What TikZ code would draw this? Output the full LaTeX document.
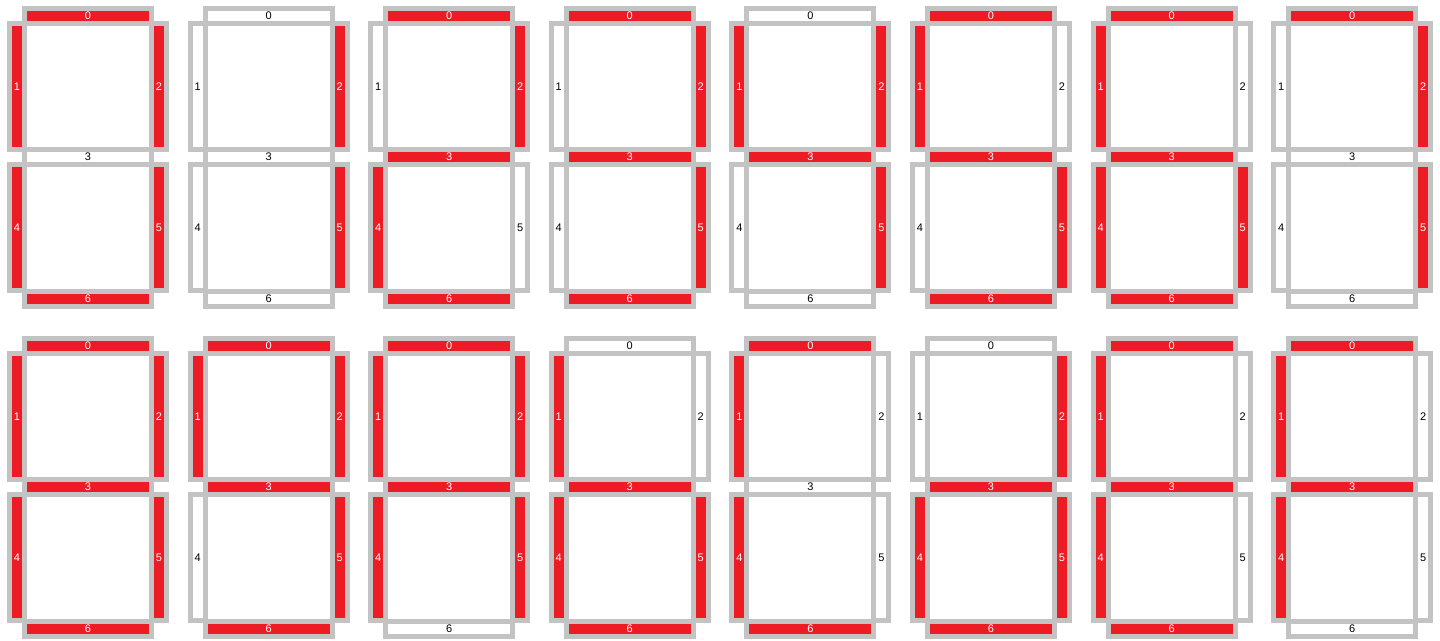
\documentclass[tikz,border=0pt]{standalone}
\usepackage{fontspec}
\setmainfont{Liberation Sans}
\usepackage{xcolor}
\definecolor{cFrame}{HTML}{C3C3C3}
\definecolor{cLit}{HTML}{ED1C24}
\usepackage{tikz}
\tikzset{
  seg-base/.style={draw=cFrame,line width=5pt,rectangle,inner sep=0pt,
    font=\fontsize{11}{12}\selectfont},
  seg-h/.style={minimum width=127pt,minimum height=15pt},
  seg-v/.style={minimum width=15pt,minimum height=126.5pt},
  % 熄灭段：白底黑字；点亮段：红底白字
  seg-state-0/.style={fill=white,text=black},
  seg-state-1/.style={fill=cLit,text=white},
}

\begin{document}
\begin{tikzpicture}[x=1pt,y=-1pt]
  \useasboundingbox (0,0) rectangle (1440,640);
  % 段掩码：第 s 位为 1 表示第 s 段点亮，依次为 0..F
  \foreach \mask [count=\i from 0] in {119,36,93,109,46,107,123,37,127,111,63,122,83,124,91,27} {
    \pgfmathsetmacro\ox{7+180.6*mod(\i,8)}
    \pgfmathsetmacro\oy{5.7+330*int(\i/8)}
    \foreach \s/\sx/\sy/\dir in {0/81/10/h,1/10/80.75/v,2/152/80.75/v,3/81/151/h,%
        4/10/222/v,5/152/222/v,6/81/293/h} {
      \pgfmathtruncatemacro\bit{mod(int(\mask/(2^\s)),2)}
      \node[seg-base,seg-\dir,seg-state-\bit] (d\i-s\s) at (\ox+\sx,\oy+\sy) {\s};
    }
  }
\end{tikzpicture}
\end{document}
